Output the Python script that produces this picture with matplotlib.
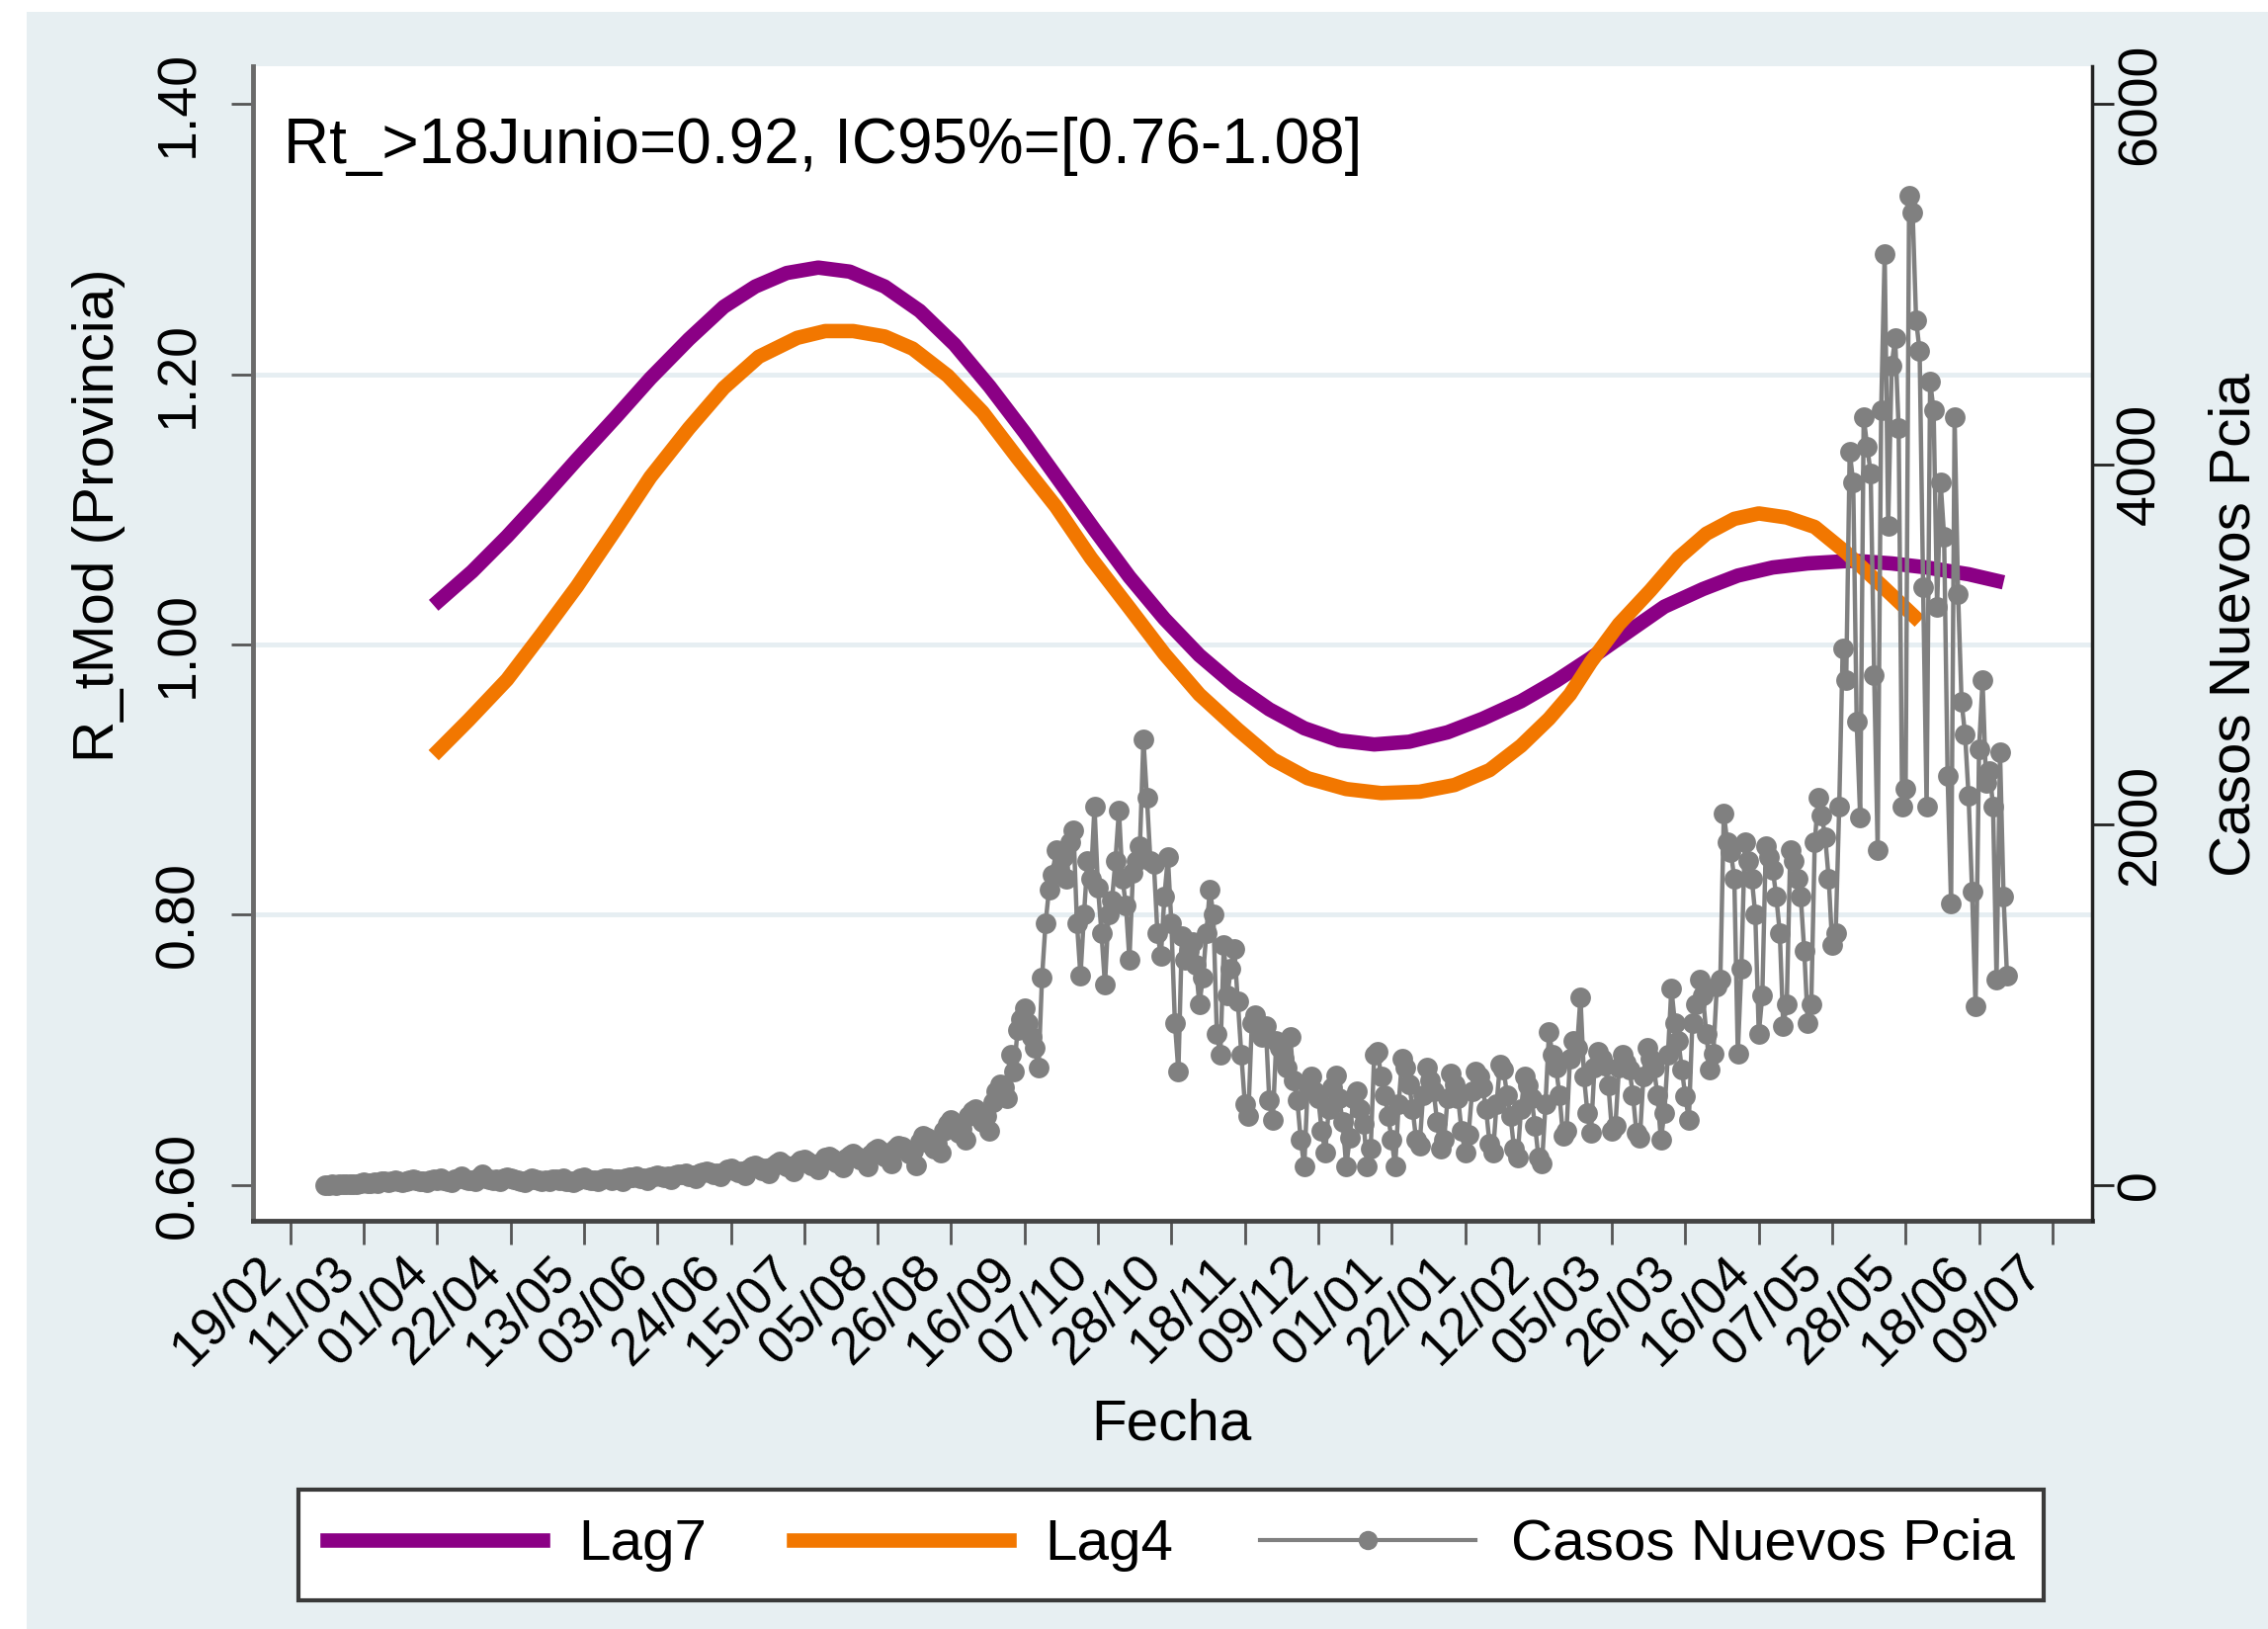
import matplotlib

matplotlib.use("Agg")
import matplotlib.pyplot as plt  # noqa: E402
import numpy as np  # noqa: E402
from matplotlib.lines import Line2D  # noqa: E402
from matplotlib.patches import Rectangle  # noqa: E402
from matplotlib.transforms import ScaledTranslation  # noqa: E402

plt.rcParams["font.family"] = ["Liberation Sans", "DejaVu Sans"]

# x axis: days since 19/02/2020, ticks every 21 days
tick_days = list(range(0, 505, 21))
tick_labels = [
    "19/02", "11/03", "01/04", "22/04", "13/05", "03/06", "24/06", "15/07",
    "05/08", "26/08", "16/09", "07/10", "28/10", "18/11", "09/12", "01/01",
    "22/01", "12/02", "05/03", "26/03", "16/04", "07/05", "28/05", "18/06",
    "09/07",
]

# Rt curves
lag7_day = [41, 52, 62, 72, 82, 93, 103, 114, 124, 133, 142, 151, 160, 170,
            180, 190, 200, 210, 220, 230, 240, 250, 260, 270, 280, 290, 300,
            310, 320, 331, 341, 352, 362, 372, 383, 393, 404, 414, 424, 434,
            447, 458, 468, 480, 490]
lag7_rt = [1.029, 1.054, 1.080, 1.108, 1.137, 1.168, 1.197, 1.226, 1.250,
           1.265, 1.275, 1.279, 1.276, 1.265, 1.247, 1.222, 1.191, 1.157,
           1.121, 1.085, 1.050, 1.019, 0.992, 0.970, 0.952, 0.938, 0.929,
           0.926, 0.928, 0.935, 0.945, 0.958, 0.973, 0.990, 1.010, 1.028,
           1.041, 1.051, 1.057, 1.060, 1.062, 1.060, 1.057, 1.052, 1.046]

lag4_day = [41, 51, 62, 72, 82, 93, 103, 114, 124, 134, 145, 153, 161, 170,
            178, 188, 198, 208, 219, 229, 240, 250, 260, 271, 281, 291, 302,
            312, 323, 333, 343, 352, 360, 366, 372, 380, 389, 397, 405, 413,
            420, 428, 436, 445, 455, 466]
lag4_rt = [0.918, 0.944, 0.974, 1.008, 1.043, 1.085, 1.124, 1.160, 1.190,
           1.213, 1.227, 1.232, 1.232, 1.228, 1.219, 1.199, 1.172, 1.138,
           1.102, 1.064, 1.027, 0.993, 0.963, 0.937, 0.915, 0.901, 0.893,
           0.890, 0.891, 0.896, 0.907, 0.925, 0.945, 0.963, 0.987, 1.015,
           1.040, 1.064, 1.082, 1.093, 1.097, 1.094, 1.087, 1.068, 1.044,
           1.017]

# daily new cases, starting at day 10 (one row per week)
casos_start = 10
casos = [
    0, 0, 1, 0, 2, 3, 2,
    4, 3, 6, 9, 12, 8, 10,
    14, 10, 18, 22, 16, 20, 25,
    18, 12, 20, 28, 30, 24, 19,
    22, 15, 25, 32, 28, 35, 26,
    20, 14, 30, 38, 45, 30, 25,
    28, 18, 40, 60, 35, 30, 24,
    30, 20, 35, 42, 38, 30, 26,
    22, 15, 28, 35, 30, 25, 20,
    25, 18, 30, 32, 28, 36, 22,
    20, 16, 28, 34, 40, 30, 24,
    26, 18, 32, 38, 35, 28, 30,
    32, 20, 36, 44, 40, 46, 34,
    38, 25, 42, 50, 55, 48, 40,
    45, 30, 52, 60, 58, 65, 50,
    55, 38, 62, 70, 75, 68, 60,
    64, 45, 72, 85, 90, 80, 70,
    75, 55, 88, 100, 110, 95, 82,
    90, 65, 105, 120, 130, 115, 100,
    105, 75, 118, 135, 140, 128, 110,
    115, 85, 130, 150, 160, 145, 125,
    130, 95, 145, 165, 175, 160, 140,
    145, 105, 170, 190, 200, 185, 160,
    170, 120, 200, 220, 210, 195, 175,
    190, 110, 240, 270, 260, 230, 200,
    230, 180, 300, 340, 360, 320, 290,
    310, 250, 380, 410, 420, 400, 350,
    380, 300, 460, 520, 560, 540, 480,
    720, 630, 860, 920, 980, 900, 820,
    760, 650, 1150, 1450, 1640, 1720, 1860,
    1750, 1820, 1700, 1900, 1970, 1450, 1160,
    1500, 1800, 1700, 2100, 1650, 1400, 1110,
    1500, 1580, 1800, 2080, 1700, 1550, 1250,
    1730, 1800, 1880, 2473, 2150, 1800, 1780,
    1400, 1270, 1600, 1820, 1450, 900, 630,
    1380, 1250, 1300, 1350, 1220, 1000, 1150,
    1400, 1640, 1500, 840, 720, 1330, 1050,
    1200, 1310, 1017, 725, 450, 380, 900,
    940, 870, 820, 880, 470, 360, 800,
    760, 700, 650, 820, 580, 470, 250,
    100, 560, 600, 520, 480, 300, 180,
    420, 540, 610, 480, 350, 100, 260,
    480, 520, 420, 340, 100, 200, 720,
    740, 600, 500, 380, 250, 100, 450,
    700, 650, 560, 420, 250, 220, 500,
    650, 580, 520, 350, 200, 250, 480,
    620, 560, 480, 300, 180, 280, 520,
    630, 600, 540, 420, 230, 180, 450,
    670, 640, 500, 380, 200, 150, 420,
    600, 550, 480, 330, 150, 120, 450,
    850, 720, 650, 500, 270, 300, 700,
    800, 760, 1040, 600, 400, 290, 650,
    740, 700, 660, 550, 300, 330, 650,
    720, 680, 640, 500, 290, 260, 600,
    760, 700, 650, 500, 250, 400, 720,
    1090, 900, 800, 640, 490, 360, 900,
    1000, 1140, 1050, 840, 640, 730, 1100,
    1140, 2060, 1900, 1850, 1700, 730, 1200,
    1900, 1800, 1700, 1500, 840, 1050, 1880,
    1820, 1750, 1600, 1400, 880, 1000, 1860,
    1800, 1700, 1600, 1300, 900, 1000, 1900,
    2150, 2050, 1930, 1700, 1330, 1400, 2100,
    2980, 2800, 4070, 3900, 2570, 2040, 4260,
    4100, 3950, 2830, 1860, 4300, 5170, 3660,
    4550, 4700, 4200, 2100, 2200, 5490, 5400,
    4800, 4630, 3320, 2100, 4460, 4300, 3210,
    3900, 3600, 2270, 1560, 4260, 3280, 2680,
    2500, 2160, 1630, 990, 2420, 2800, 2230,
    2300, 2100, 1140, 2400, 1600, 1160,
]
casos_day = np.arange(casos_start, casos_start + len(casos))

rt_ticks = [0.60, 0.80, 1.00, 1.20, 1.40]
casos_ticks = [0, 2000, 4000, 6000]

PURPLE = "#8B0085"
ORANGE = "#F27700"
GRAY = "#808080"
BG = "#E7EFF2"
GRID = "#E6EEF2"

FS = 42

fig = plt.figure(figsize=(22.95, 16.48), dpi=100)
fig.patch.set_facecolor("white")
fig.patches.append(Rectangle((0.0118, 0.0), 1.0, 0.9927, transform=fig.transFigure,
                             facecolor=BG, edgecolor="none", zorder=-10))

ax = fig.add_axes([0.1115, 0.2506, 0.8109, 0.7087])
ax.set_facecolor("white")
ax.plot(lag7_day, lag7_rt, color=PURPLE, lw=10.5, solid_capstyle="butt",
        solid_joinstyle="round", zorder=3)
ax.plot(lag4_day, lag4_rt, color=ORANGE, lw=10.5, solid_capstyle="butt",
        solid_joinstyle="round", zorder=3)

y0, y1 = 0.5734, 1.428
ax.set_ylim(y0, y1)
ax.set_xlim(-10.7, 515.3)
ax.set_yticks(rt_ticks)
ax.set_yticklabels([f"{v:.2f}" for v in rt_ticks], rotation=90, va="center")
ax.set_xticks(tick_days)
ax.set_xticklabels(tick_labels, rotation=45, ha="right", va="top")
shift = ScaledTranslation(8 / 100, 0, fig.dpi_scale_trans)
for lbl in ax.get_xticklabels():
    lbl.set_transform(lbl.get_transform() + shift)
for g in [0.80, 1.00, 1.20]:
    ax.axhline(g, color=GRID, lw=3.5, zorder=0)

ax.tick_params(axis="y", length=16, width=2, color="#555555", labelsize=40, pad=19)
ax.tick_params(axis="x", length=17, width=2, color="#555555", labelsize=38, pad=2)
ax.spines["top"].set_visible(False)
ax.spines["right"].set_visible(False)
ax.spines["left"].set_color("#6a6a6a")
ax.spines["left"].set_linewidth(3.5)
ax.spines["bottom"].set_color("#444444")
ax.spines["bottom"].set_linewidth(3.5)

ax2 = ax.twinx()
ax2.plot(casos_day, casos, color=GRAY, lw=3.2, marker="o", markersize=15,
         markeredgewidth=0, zorder=4)
ax2.set_ylim((y0 - 0.6) * 7500, (y1 - 0.6) * 7500)
ax2.set_yticks(casos_ticks)
ax2.set_yticklabels([str(v) for v in casos_ticks], rotation=90, va="center")
ax2.tick_params(axis="y", length=16, width=2, color="#222222", labelsize=40, pad=1)
for side in ["top", "left", "bottom"]:
    ax2.spines[side].set_visible(False)
ax2.spines["right"].set_color("#222222")
ax2.spines["right"].set_linewidth(2.5)

fig.text(0.125, 0.9, "Rt_>18Junio=0.92, IC95%=[0.76-1.08]", fontsize=46,
         ha="left", va="baseline")
fig.text(0.0434, 0.684, "R_tMod (Provincia)", fontsize=FS, rotation=90,
         ha="center", va="center")
fig.text(0.9855, 0.6165, "Casos Nuevos Pcia", fontsize=FS, rotation=90,
         ha="center", va="center")
fig.text(0.5166, 0.1252, "Fecha", fontsize=FS, ha="center", va="center")

handles = [
    Line2D([], [], color=PURPLE, lw=10.5),
    Line2D([], [], color=ORANGE, lw=10.5),
    Line2D([], [], color=GRAY, lw=3, marker="o", markersize=14, markeredgewidth=0),
]
leg = fig.legend(handles, ["Lag7", "Lag4", "Casos Nuevos Pcia"], loc="center",
                 bbox_to_anchor=(0.5163, 0.0516), ncol=3, fontsize=FS,
                 handlelength=3.74, handletextpad=0.62, columnspacing=1.5,
                 borderpad=0.5, frameon=True, fancybox=False,
                 edgecolor="#3a3a3a", framealpha=1)
leg.get_frame().set_linewidth(3)

fig.savefig("out.png", dpi=100, facecolor="white")
